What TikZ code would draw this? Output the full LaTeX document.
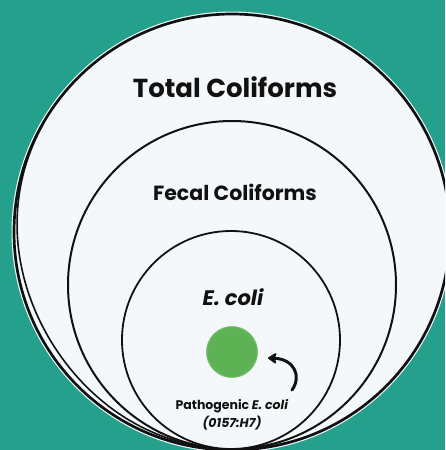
\documentclass[tikz,border=0pt]{standalone}
\usepackage{fontspec}
\setmainfont{Poppins}
\usetikzlibrary{arrows.meta}
\definecolor{teal}{RGB}{36,160,141}
\definecolor{paper}{RGB}{245,248,250}
\definecolor{dotgreen}{RGB}{93,178,84}
\definecolor{ink}{RGB}{17,17,17}
\tikzset{
  ring/.style={circle, draw=ink, fill=paper, inner sep=0pt},
  lbl/.style={text=ink, inner sep=0pt, anchor=base, font=\bfseries},
}
\begin{document}
\begin{tikzpicture}[x=1pt, y=-1pt]
\useasboundingbox (0,0) rectangle (445,450);
\clip (0,0) rectangle (445,450);
\fill[teal] (0,0) rectangle (445,450);
% outer ring with white halo
\node[circle, fill=paper, inner sep=0pt, minimum size=441pt] (halo) at (232,232) {};
\node[ring, line width=2.7pt, minimum size=436pt] (total) at (232,232) {};
\draw[ink, line width=1.6pt] plot[domain=150:290, samples=80, smooth]
  ({232+(218-6.5*exp(-((\x-212)/38)^2))*cos(\x)}, {232-(218-6.5*exp(-((\x-212)/38)^2))*sin(\x)});
\node[ring, line width=2pt, minimum size=328pt] (fecal) at (232,285) {};
\node[ring, line width=1.8pt, minimum size=218pt] (ecoli) at (231,340) {};
\node[circle, fill=dotgreen, draw=dotgreen!80!white, line width=0.8pt, inner sep=0pt, minimum size=51pt] (dot) at (232,352) {};
% labels
\node[lbl, font=\bfseries\fontsize{26}{30}\selectfont] (tl) at (235,97) {Total Coliforms};
\node[lbl, font=\bfseries\fontsize{20.5}{24}\selectfont] (fl) at (235,200.5) {Fecal Coliforms};
\node[lbl, font=\bfseries\itshape\fontsize{21}{25}\selectfont] (el) at (233,305) {E. coli};
\node[lbl, font=\bfseries\fontsize{12.5}{15}\selectfont] (pl) at (232,409) {Pathogenic \textit{E. coli}};
\node[lbl, font=\bfseries\itshape\fontsize{12.5}{15}\selectfont] (ol) at (232,427.5) {(0157:H7)};
% arrow
\coordinate (atail) at (292,390);
\coordinate (ahead) at (268,358);
\draw[ink, line width=3pt, line cap=round, -{Stealth[length=10pt, width=13pt, inset=2.5pt, round]}]
  (atail) .. controls (302,376) and (294,359) .. (ahead);
\end{tikzpicture}
\end{document}
